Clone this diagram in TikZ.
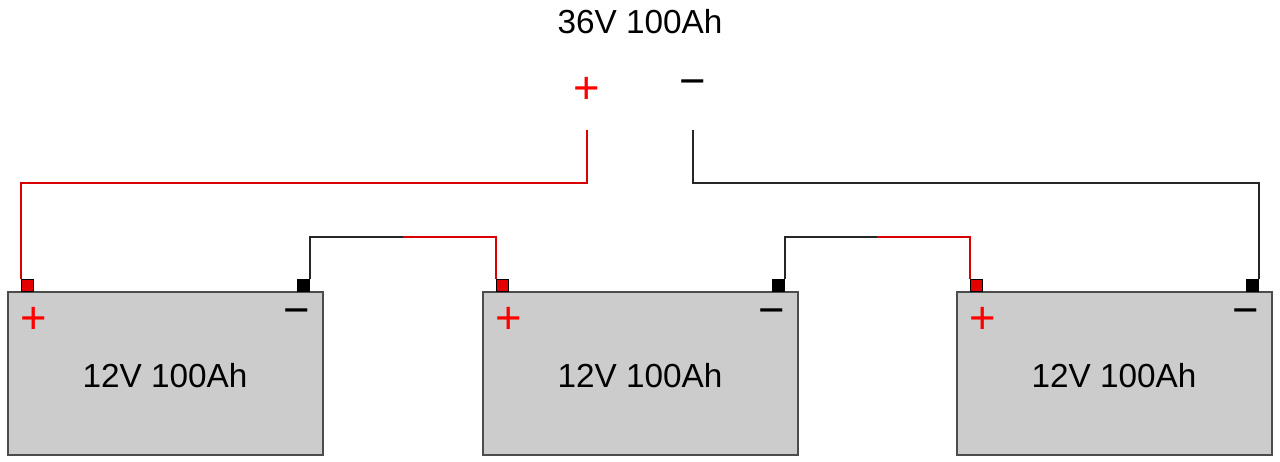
\documentclass[tikz,border=0pt]{standalone}
\usepackage{fontspec}
\setmainfont{Liberation Sans}
\begin{document}
\begin{tikzpicture}[x=0.75pt,y=-0.75pt,
  bat/.style={draw=black!70,fill=black!20,line width=1.2pt},
  posterm/.style={draw=black,fill=red!90!black,line width=0.6pt,minimum size=9pt,inner sep=0pt},
  negterm/.style={draw=black,fill=black,minimum size=9pt,inner sep=0pt},
  rw/.style={red!85!black,line width=1.3pt},
  bw/.style={black!85,line width=1.3pt},
  lbl/.style={font=\fontsize{25}{28}\selectfont},
  sym/.style={font=\fontsize{34}{34}\selectfont,inner sep=0pt}]
\useasboundingbox (0,0) rectangle (1280,461);
\foreach \i/\x in {1/8,2/483,3/957}{
  \draw[bat] (\x,292) rectangle (\x+315,455);
  \node[posterm,anchor=south] (p\i) at (\x+19.5,292) {};
  \node[negterm,anchor=south] (n\i) at (\x+295.5,292) {};
  \node[lbl] (l\i) at (\x+157,376) {12V 100Ah};
  \node[sym,text=red] (ps\i) at (\x+26,320) {+};
  \node[sym] (ms\i) at (\x+289,317) {\textminus};
}
\node[lbl] (title) at (640,22) {36V 100Ah};
\node[sym,text=red] (tp) at (587,90) {+};
\node[sym] (tm) at (693,88) {\textminus};
\coordinate (a) at (587,130);
\coordinate (b) at (693,130);
\draw[rw] (p1.north west) |- (587,183) -- (a);
\draw[bw] (n3.north east) |- (693,183) -- (b);
\draw[bw] (n1.north east) |- (403,237);
\draw[rw] (403,237) -| (p2.north west);
\draw[bw] (n2.north east) |- (877,237);
\draw[rw] (877,237) -| (p3.north west);
\end{tikzpicture}
\end{document}
